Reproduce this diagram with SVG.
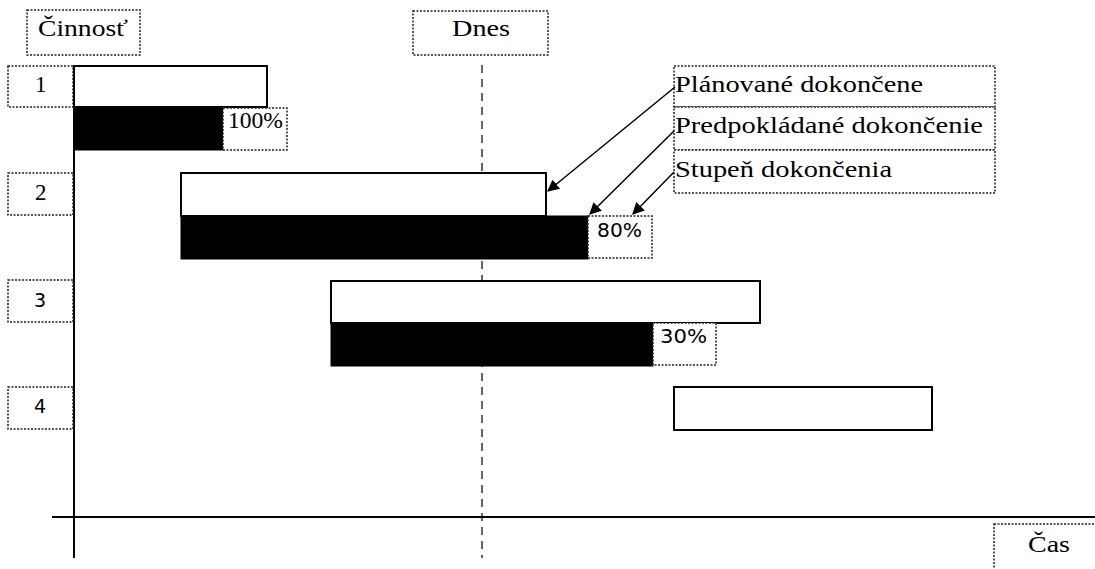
<svg xmlns="http://www.w3.org/2000/svg" width="1095" height="569" viewBox="0 0 1095 569">
  <style>
    .lbl { fill: #fff; stroke: #222; stroke-width: 1.5; stroke-dasharray: 2 1.5; }
    .plan { fill: #fff; stroke: #000; stroke-width: 2; }
    .done { fill: #000; stroke: #000; stroke-width: 1; }
    .t { font-family: "Liberation Serif", "Times New Roman", serif; font-size: 23px; fill: #000; }
    .s { font-family: "DejaVu Sans", "Liberation Sans", sans-serif; font-size: 19px; fill: #000; }
    .axis { stroke: #000; stroke-width: 2; fill: none; }
    .today { stroke: #000; stroke-width: 1.2; stroke-dasharray: 8 6; fill: none; }
    .arrow { stroke: #000; stroke-width: 1.5; fill: none; marker-end: url(#ah); }
  </style>
  <defs>
    <marker id="ah" viewBox="0 0 10 10" refX="9" refY="5" markerWidth="12" markerHeight="12" markerUnits="userSpaceOnUse" orient="auto">
      <path d="M0,0 L10,5 L0,10 z" fill="#000"/>
    </marker>
  </defs>
  <rect width="1095" height="569" fill="#fff"/>

  <!-- axes and today line -->
  <g id="axes">
    <line class="axis" x1="74" y1="66" x2="74" y2="558"/>
    <line class="axis" x1="52" y1="517" x2="1095" y2="517"/>
    <line class="today" x1="482" y1="65" x2="482" y2="558"/>
  </g>

  <!-- axis titles -->
  <g id="title-cinnost">
    <rect class="lbl" x="27" y="10" width="113" height="45"/>
    <text class="t" x="38" y="36" textLength="90" lengthAdjust="spacingAndGlyphs">Činnosť</text>
  </g>
  <g id="title-dnes">
    <rect class="lbl" x="413" y="11" width="135" height="44"/>
    <text class="t" x="452" y="36" textLength="58" lengthAdjust="spacingAndGlyphs">Dnes</text>
  </g>
  <g id="title-cas">
    <rect class="lbl" x="994" y="524" width="110" height="50"/>
    <text class="t" x="1028" y="552" textLength="42" lengthAdjust="spacingAndGlyphs">Čas</text>
  </g>

  <!-- activity 1 -->
  <g id="task-1">
    <rect class="lbl" x="8" y="66" width="65" height="41"/>
    <text class="t" x="35" y="92">1</text>
    <rect class="plan" x="74" y="66" width="193" height="41"/>
    <rect class="done" x="74" y="107" width="149" height="43"/>
    <rect class="lbl" x="223" y="108" width="64" height="42"/>
    <text class="t" x="228" y="128" textLength="55" lengthAdjust="spacingAndGlyphs">100%</text>
  </g>

  <!-- activity 2 -->
  <g id="task-2">
    <rect class="lbl" x="8" y="173" width="65" height="42"/>
    <text class="t" x="35" y="200">2</text>
    <rect class="plan" x="181" y="173" width="365" height="43"/>
    <rect class="done" x="181" y="216" width="407" height="43"/>
    <rect class="lbl" x="588" y="216" width="64" height="42"/>
    <text class="s" x="597" y="237" textLength="45" lengthAdjust="spacingAndGlyphs">80%</text>
  </g>

  <!-- activity 3 -->
  <g id="task-3">
    <rect class="lbl" x="8" y="280" width="65" height="42"/>
    <text class="s" x="34" y="307">3</text>
    <rect class="plan" x="331" y="281" width="429" height="42"/>
    <rect class="done" x="331" y="323" width="322" height="43"/>
    <rect class="lbl" x="653" y="323" width="63" height="42"/>
    <text class="s" x="660" y="343" textLength="47" lengthAdjust="spacingAndGlyphs">30%</text>
  </g>

  <!-- activity 4 -->
  <g id="task-4">
    <rect class="lbl" x="8" y="387" width="65" height="42"/>
    <text class="s" x="34" y="413">4</text>
    <rect class="plan" x="674" y="387" width="258" height="43"/>
  </g>

  <!-- legend -->
  <g id="legend-planned">
    <rect class="lbl" x="674" y="66" width="321" height="41"/>
    <text class="t" x="675" y="92" textLength="248" lengthAdjust="spacingAndGlyphs">Plánované dokončene</text>
  </g>
  <g id="legend-expected">
    <rect class="lbl" x="674" y="107" width="321" height="43"/>
    <text class="t" x="675" y="133" textLength="308" lengthAdjust="spacingAndGlyphs">Predpokládané dokončenie</text>
  </g>
  <g id="legend-degree">
    <rect class="lbl" x="674" y="150" width="321" height="43"/>
    <text class="t" x="675" y="177" textLength="217" lengthAdjust="spacingAndGlyphs">Stupeň dokončenia</text>
  </g>

  <!-- connectors -->
  <g id="connectors">
    <line class="arrow" x1="675" y1="87" x2="548" y2="191"/>
    <line class="arrow" x1="674" y1="131" x2="590" y2="214"/>
    <line class="arrow" x1="674" y1="172" x2="633" y2="214"/>
  </g>
</svg>
